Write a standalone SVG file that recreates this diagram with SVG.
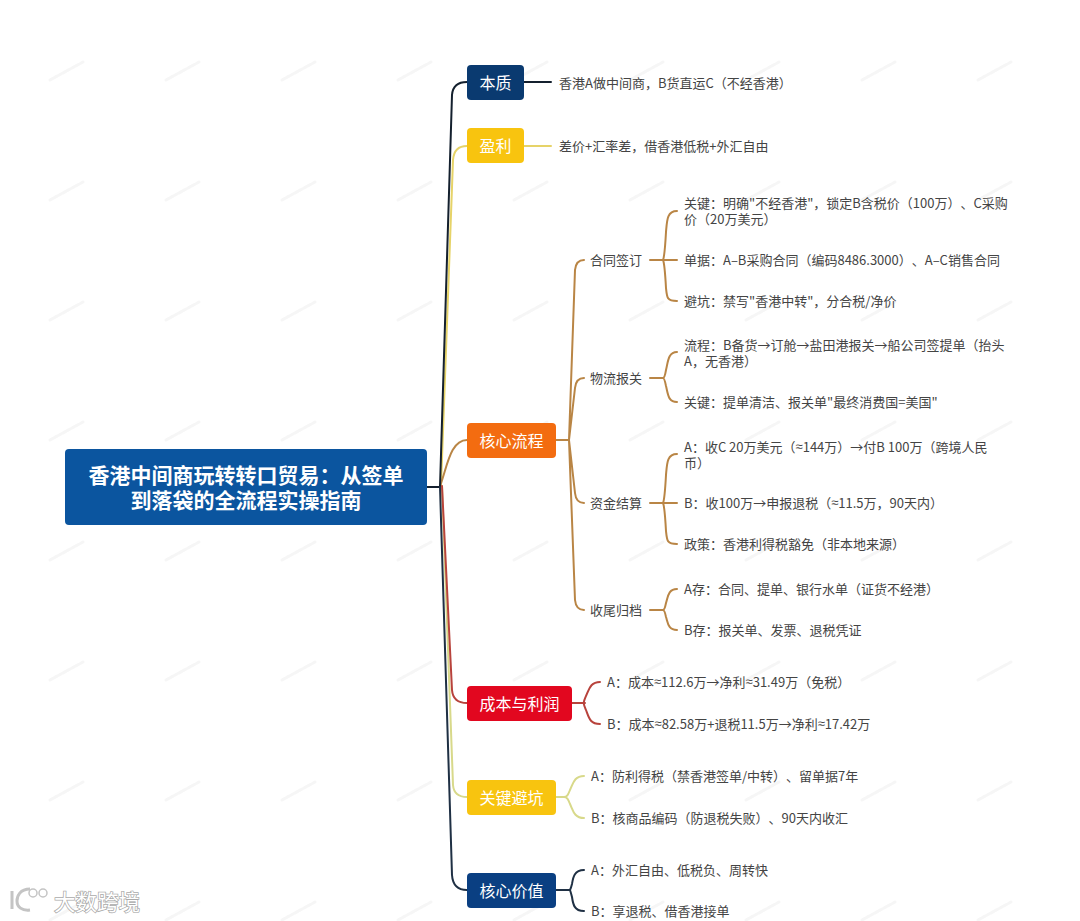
<svg xmlns="http://www.w3.org/2000/svg" width="1080" height="921" viewBox="0 0 1080 921">
<style>
text{font-family:"Noto Sans CJK SC","Noto Sans",sans-serif;text-spacing-trim:space-all}
.leaf{font-size:13px;fill:#444;dominant-baseline:central}
.sub{font-size:13px;fill:#444;dominant-baseline:central}
.t{font-size:16px;fill:#fff;text-anchor:middle;dominant-baseline:central}
.root{font-size:21px;font-weight:700;fill:#fff;text-anchor:middle;dominant-baseline:central}
.n{font-family:"Liberation Sans",sans-serif}
.c{fill:none;stroke-width:2;stroke-linecap:round}
.navy{stroke:#14202e}.yel{stroke:#e6d368}.org{stroke:#b98545}.red{stroke:#b8433c}.yl2{stroke:#d8d98a}.blu{stroke:#1f3044}
.wm{stroke:#f6f6f6;stroke-width:3;stroke-linecap:round;fill:none}
</style>
<defs>
<pattern id="wmp" x="45" y="50" width="116" height="120" patternUnits="userSpaceOnUse"><path class="wm" d="M5,30L38,12" stroke-dasharray="3 2"/></pattern>
</defs>
<rect width="1080" height="921" fill="#fff"/>
<rect id="watermark" width="1080" height="921" fill="url(#wmp)"/>
<g id="connectors">
<path class="c yel" d="M441,486L453,160Q454,146 467,146M524,146H551"/>
<path class="c yl2" d="M442,486L453,785Q454,797 467,797M556,797H564M584,776C574,776 573,784 570,790C568,795 567,797 564,797C567,797 568,799 570,804C573,810 574,818 584,818"/>
<path class="c org" d="M440,486C447,468 450,440 467,440M556,440H569"/>
<path class="c red" d="M442,486L452,690Q453,703 467,703M572,703H585M600,682C590,682 589,690 586,696C584,701 583,703 585,703C583,703 584,705 586,710C589,718 590,724 600,724"/>
<path class="c navy" d="M427,487H440L452,95Q453,82 467,82M524,82H551"/>
<path class="c blu" d="M440,487L452,875Q453,890 467,890M556,890H570M584,870C574,870 573,878 572,884C571,888 570,890 570,890C570,890 571,893 572,897C573,904 574,911 584,911"/>
<path class="c org" d="M569,440L575,270Q576,260 584,260M569,440L575,388Q576,378 584,378M569,440L575,493Q576,503 584,503M569,440L575,600Q576,610 584,610"/>
<path class="c org" d="M650,260H677M677,211C667,211 667,220 666,232C665,250 664,258 663,260C664,262 665,270 666,288C667,298 667,301 677,301"/>
<path class="c org" d="M650,378H663M677,352C668,352 668,362 666,370C665,376 664,378 663,378C664,378 665,381 666,386C668,394 668,402 677,402"/>
<path class="c org" d="M650,503H677M677,454C667,454 667,463 666,475C665,493 664,501 663,503C664,505 665,513 666,531C667,541 667,544 677,544"/>
<path class="c org" d="M650,610H663M677,589C668,589 668,597 666,603C665,608 664,610 663,610C664,610 665,612 666,617C668,623 668,630 677,630"/>
</g>
<g id="root"><rect x="65" y="449" width="362" height="76" rx="4" fill="#0b559f"/><text class="root" x="246" y="474">香港中间商玩转转口贸易：从签单</text><text class="root" x="246" y="499">到落袋的全流程实操指南</text></g>
<g id="n1"><rect x="467" y="65" width="57" height="35" rx="4" fill="#0a3a70"/><text class="t" x="495.500" y="81.500">本质</text></g>
<g id="n2"><rect x="467" y="128" width="57" height="35" rx="4" fill="#f8c40f"/><text class="t" x="495.500" y="145">盈利</text></g>
<g id="n3"><rect x="467" y="423" width="89" height="35" rx="4" fill="#f36c10"/><text class="t" x="511.500" y="439.500">核心流程</text></g>
<g id="n4"><rect x="467" y="686" width="105" height="35" rx="4" fill="#e2071f"/><text class="t" x="519.500" y="702.500">成本与利润</text></g>
<g id="n5"><rect x="467" y="780" width="89" height="35" rx="4" fill="#f8c40f"/><text class="t" x="511.500" y="796.500">关键避坑</text></g>
<g id="n6"><rect x="467" y="873" width="89" height="35" rx="4" fill="#0a3f82"/><text class="t" x="511.500" y="889.500">核心价值</text></g>
<g id="leaves">
<text class="leaf" x="559" y="82">香港A做中间商，B货直运C（不经香港）</text>
<text class="leaf" x="559" y="145">差价+汇率差，借香港低税+外汇自由</text>
<text class="sub" x="590" y="259">合同签订</text>
<text class="sub" x="590" y="377">物流报关</text>
<text class="sub" x="590" y="502">资金结算</text>
<text class="sub" x="590" y="609">收尾归档</text>
<text class="leaf" x="684" y="202">关键：明确"不经香港"，锁定B含税价（100万）、C采购</text>
<text class="leaf" x="684" y="218">价（20万美元）</text>
<text class="leaf" x="684" y="259">单据：A–B采购合同（编码8486.3000）、A–C销售合同</text>
<text class="leaf" x="684" y="300">避坑：禁写"香港中转"，分合税/净价</text>
<text class="leaf" x="684" y="344">流程：B备货→订舱→盐田港报关→船公司签提单（抬头</text>
<text class="leaf" x="684" y="360">A，无香港）</text>
<text class="leaf" x="684" y="401">关键：提单清洁、报关单"最终消费国=美国"</text>
<text class="leaf" x="684" y="446">A：收C 20万美元（<tspan class="n">≈</tspan>144万）→付B 100万（跨境人民</text>
<text class="leaf" x="684" y="462">币）</text>
<text class="leaf" x="684" y="502">B：收100万→申报退税（<tspan class="n">≈</tspan>11.5万，90天内）</text>
<text class="leaf" x="684" y="543">政策：香港利得税豁免（非本地来源）</text>
<text class="leaf" x="684" y="588">A存：合同、提单、银行水单（证货不经港）</text>
<text class="leaf" x="684" y="629">B存：报关单、发票、退税凭证</text>
<text class="leaf" x="607" y="681">A：成本<tspan class="n">≈</tspan>112.6万→净利<tspan class="n">≈</tspan>31.49万（免税）</text>
<text class="leaf" x="607" y="723">B：成本<tspan class="n">≈</tspan>82.58万+退税11.5万→净利<tspan class="n">≈</tspan>17.42万</text>
<text class="leaf" x="591" y="775">A：防利得税（禁香港签单/中转）、留单据7年</text>
<text class="leaf" x="591" y="817">B：核商品编码（防退税失败）、90天内收汇</text>
<text class="leaf" x="591" y="869">A：外汇自由、低税负、周转快</text>
<text class="leaf" x="591" y="910">B：享退税、借香港接单</text>
</g>
<g id="logo">
<text x="54" y="900" font-size="21.500" fill="#fff" stroke="#aaa" stroke-width="1.500" paint-order="stroke" dominant-baseline="central">大数跨境</text>
<path d="M12,891V909M30,889C20,889 17,896 17,901C17,907 22,911 30,910" fill="none" stroke="#c4c4c4" stroke-width="3"/>
<circle cx="33" cy="893" r="4" fill="none" stroke="#c4c4c4" stroke-width="1.500"/><circle cx="43" cy="893" r="4" fill="none" stroke="#c4c4c4" stroke-width="1.500"/>
</g>
</svg>
